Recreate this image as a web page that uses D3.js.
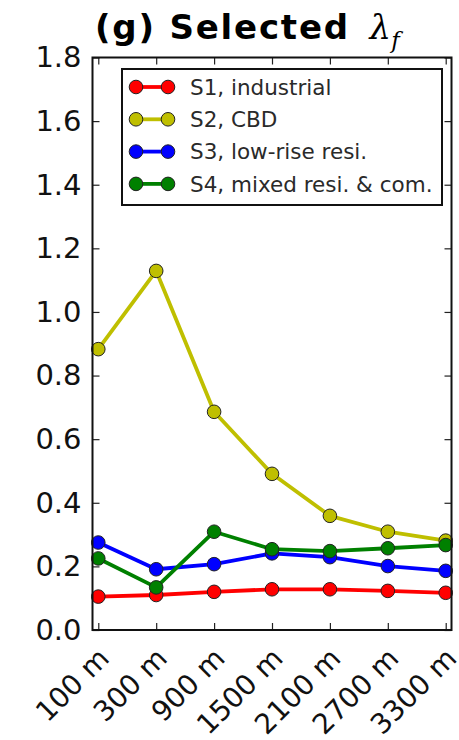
<!DOCTYPE html>
<html>
<head>
<meta charset="utf-8">
<script src="https://cdn.jsdelivr.net/npm/d3@7"></script>
<style>
  html, body { margin: 0; padding: 0; background: #fff; }
  svg { display: block; }
</style>
</head>
<body>
<svg id="chart" width="459" height="740"></svg>
<script>
// Footprint ratio by analysis scale for four sites
const categories = ["100 m", "300 m", "900 m", "1500 m", "2100 m", "2700 m", "3300 m"];
const s1Industrial = [0.105, 0.110, 0.120, 0.128, 0.128, 0.123, 0.117];
const s2CBD        = [0.883, 1.129, 0.686, 0.491, 0.359, 0.309, 0.281];
const s3LowRise    = [0.275, 0.191, 0.207, 0.241, 0.229, 0.201, 0.186];
const s4Mixed      = [0.225, 0.134, 0.309, 0.254, 0.248, 0.257, 0.267];
const seriesNames  = ["S1, industrial", "S2, CBD", "S3, low-rise resi.", "S4, mixed resi. & com."];
const yTicks = [0.0, 0.2, 0.4, 0.6, 0.8, 1.0, 1.2, 1.4, 1.6, 1.8];

const series = [
  { name: seriesNames[0], values: s1Industrial, color: "#ff0000" },
  { name: seriesNames[1], values: s2CBD,        color: "#bfbf00" },
  { name: seriesNames[2], values: s3LowRise,    color: "#0000ff" },
  { name: seriesNames[3], values: s4Mixed,      color: "#008000" }
];

const svg = d3.select("#chart");
const plotLeft = 92.5, plotRight = 451.5, plotTop = 57.5, plotBottom = 630;

const x = d3.scaleLinear().domain([-0.1, categories.length - 1 + 0.1]).range([plotLeft, plotRight]);
const y = d3.scaleLinear().domain([0, 1.8]).range([plotBottom, plotTop]);
const font = "'DejaVu Sans', sans-serif";

// Title
const title = svg.append("text")
  .attr("x", 95).attr("y", 39)
  .attr("font-family", font).attr("font-weight", "bold")
  .attr("font-size", 34).attr("fill", "#000");
title.append("tspan").attr("letter-spacing", 1.8).text("(g) Selected ");
title.append("tspan").attr("font-family", "'DejaVu Serif', serif")
  .attr("font-style", "italic").attr("font-weight", "normal").attr("dx", 6).text("λ");
title.append("tspan").attr("font-family", "'DejaVu Serif', serif")
  .attr("font-style", "italic").attr("font-weight", "normal")
  .attr("font-size", 23).attr("dy", 9).text("f");

// Axes with inward ticks on all four sides
const tickLen = 7;
const yLeft = d3.axisLeft(y).tickValues(yTicks).tickFormat(d3.format(".1f")).tickSizeInner(-tickLen).tickSizeOuter(0).tickPadding(11);
const yRight = d3.axisRight(y).tickValues(yTicks).tickFormat("").tickSizeInner(-tickLen).tickSizeOuter(0);
const xBottom = d3.axisBottom(x).tickValues(d3.range(categories.length)).tickFormat(i => categories[i]).tickSizeInner(-tickLen).tickSizeOuter(0);
const xTop = d3.axisTop(x).tickValues(d3.range(categories.length)).tickFormat("").tickSizeInner(-tickLen).tickSizeOuter(0);

const gyl = svg.append("g").attr("transform", `translate(${plotLeft},0)`).call(yLeft);
const gyr = svg.append("g").attr("transform", `translate(${plotRight},0)`).call(yRight);
const gxb = svg.append("g").attr("transform", `translate(0,${plotBottom})`).call(xBottom);
const gxt = svg.append("g").attr("transform", `translate(0,${plotTop})`).call(xTop);

[gyl, gyr, gxb, gxt].forEach(g => {
  g.select(".domain").remove();
  g.selectAll(".tick line").attr("stroke", "#222").attr("stroke-width", 1.2);
});

gyl.selectAll(".tick text")
  .attr("font-family", font).attr("font-size", 29).attr("fill", "#111");

gxb.selectAll(".tick text")
  .attr("font-family", font).attr("font-size", 28).attr("fill", "#111")
  .attr("text-anchor", "end")
  .attr("x", 0).attr("y", 0).attr("dy", 0)
  .attr("transform", "translate(12,30) rotate(-45)");

// Plot lines and markers
const line = d3.line().x((d, i) => x(i)).y(d => y(d));
const plot = svg.append("g");
series.forEach(s => {
  plot.append("path").datum(s.values)
    .attr("d", line).attr("fill", "none")
    .attr("stroke", s.color).attr("stroke-width", 3.8)
    .attr("stroke-linejoin", "round");
  plot.selectAll(null).data(s.values).enter().append("circle")
    .attr("cx", (d, i) => x(i)).attr("cy", d => y(d)).attr("r", 6.8)
    .attr("fill", s.color).attr("stroke", "#222").attr("stroke-width", 1);
});

// Frame
svg.append("rect")
  .attr("x", plotLeft).attr("y", plotTop).attr("width", plotRight - plotLeft).attr("height", plotBottom - plotTop)
  .attr("fill", "none").attr("stroke", "#111").attr("stroke-width", 2);

// Legend
const legend = svg.append("g");
legend.append("rect")
  .attr("x", 122).attr("y", 69).attr("width", 320).attr("height", 136)
  .attr("fill", "#fff").attr("stroke", "#111").attr("stroke-width", 2);
series.forEach((s, i) => {
  const ly = 87 + i * 32.3;
  legend.append("line")
    .attr("x1", 136).attr("x2", 168).attr("y1", ly).attr("y2", ly)
    .attr("stroke", s.color).attr("stroke-width", 3.8);
  [136, 168].forEach(cx => legend.append("circle")
    .attr("cx", cx).attr("cy", ly).attr("r", 6.8)
    .attr("fill", s.color).attr("stroke", "#222").attr("stroke-width", 1));
  legend.append("text")
    .attr("x", 190).attr("y", ly).attr("dy", "0.36em")
    .attr("font-family", font).attr("font-size", 21.5).attr("fill", "#2a2a2a")
    .text(s.name);
});
</script>
</body>
</html>
